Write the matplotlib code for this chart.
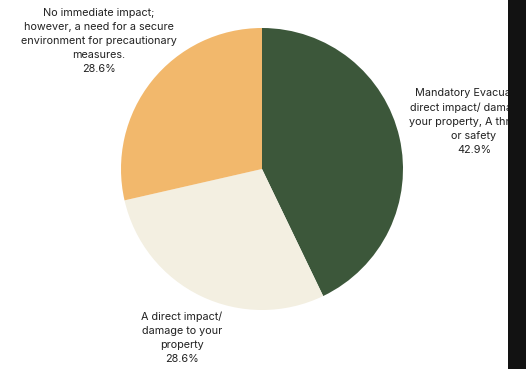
import matplotlib
matplotlib.use("Agg")
import matplotlib.pyplot as plt
from matplotlib.patches import Rectangle

labels = [
    "Mandatory Evacuation/\ndirect impact/ damage to\nyour property, A threat to\nor safety",
    "A direct impact/\ndamage to your\nproperty",
    "No immediate impact;\nhowever, a need for a secure\nenvironment for precautionary\nmeasures.",
]
values = [42.9, 28.6, 28.6]
colors = ["#3c573a", "#f3efe1", "#f2b86c"]

W, H = 526, 369
fig = plt.figure(figsize=(W / 100, H / 100), dpi=100)
fig.patch.set_facecolor("white")

cx, cy, r = 262, 169, 141
ax = fig.add_axes([(cx - r) / W, (H - cy - r) / H, 2 * r / W, 2 * r / H])
ax.pie(values, colors=colors, startangle=90, counterclock=False, radius=1,
       wedgeprops=dict(linewidth=0))
ax.set_xlim(-1, 1)
ax.set_ylim(-1, 1)
ax.set_aspect("equal")
ax.axis("off")

font = dict(family=["Inter", "DejaVu Sans"], fontsize=7.8, color="#222222",
            ha="center", va="center", linespacing=1.5)
positions = [(474, 121.5), (182, 338), (99, 40.5)]
for lab, val, (px, py) in zip(labels, values, positions):
    fig.text(px / W, 1 - py / H, f"{lab}\n{val:.1f}%", **font)

fig.add_artist(Rectangle((508 / W, 0), 18 / W, 1, transform=fig.transFigure,
                         facecolor="#121212", edgecolor="none", zorder=10))

fig.savefig("out.png", dpi=100)
